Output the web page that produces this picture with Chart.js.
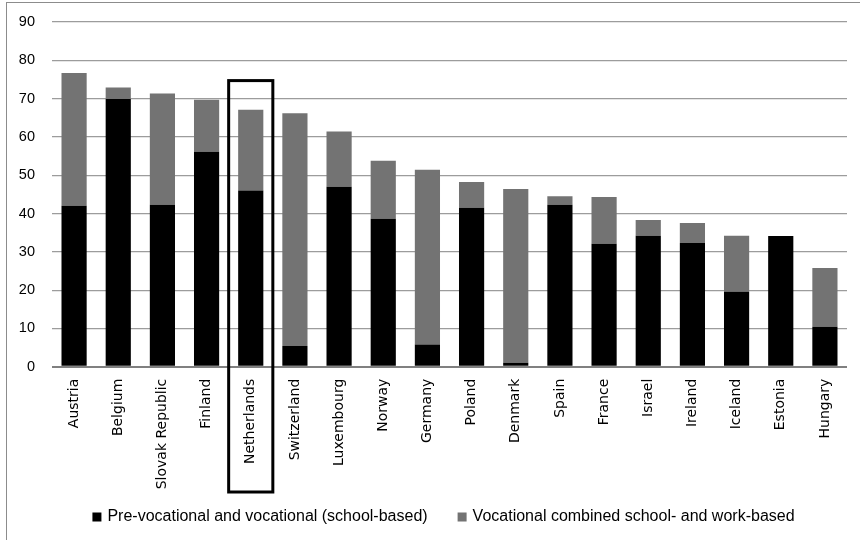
<!DOCTYPE html>
<html>
<head>
<meta charset="utf-8">
<script src="https://cdn.jsdelivr.net/npm/chart.js@4/dist/chart.umd.min.js"></script>
<style>
  html, body { margin: 0; padding: 0; background: #fff; }
  #wrap { position: relative; width: 860px; height: 540px; }
</style>
</head>
<body>
<div id="wrap"><canvas id="chart" width="860" height="540"></canvas></div>
<script>
// Share of upper secondary students by programme type
const countries = ['Austria', 'Belgium', 'Slovak Republic', 'Finland', 'Netherlands', 'Switzerland',
  'Luxembourg', 'Norway', 'Germany', 'Poland', 'Denmark', 'Spain', 'France', 'Israel',
  'Ireland', 'Iceland', 'Estonia', 'Hungary'];
const schoolBased = [42.0, 69.9, 42.3, 56.1, 46.0, 5.4, 47.0, 38.6, 5.8, 41.5, 1.0, 42.3, 32.1, 34.2, 32.3, 19.6, 34.1, 10.4];
const combined = [34.7, 3.0, 29.0, 13.6, 21.1, 60.8, 14.4, 15.2, 45.6, 6.7, 45.4, 2.2, 12.2, 4.1, 5.2, 14.6, 0, 15.4];
const yTicks = [0, 10, 20, 30, 40, 50, 60, 70, 80, 90];
const highlighted = 'Netherlands';
const highlightTop = 74.7;

const frame = {
  id: 'frame',
  beforeDraw(chart) {
    const ctx = chart.ctx;
    ctx.save();
    ctx.strokeStyle = '#8c8c8c';
    ctx.lineWidth = 1;
    ctx.strokeRect(6.5, 2.5, 900, 600);
    ctx.restore();
  }
};

// black box round the highlighted country
const highlightBox = {
  id: 'highlightBox',
  afterDatasetsDraw(chart) {
    const x = chart.scales.x, y = chart.scales.y;
    const i = countries.indexOf(highlighted);
    const cx = x.getPixelForValue(i);
    const half = (x.getPixelForValue(1) - x.getPixelForValue(0)) / 2;
    const top = y.getPixelForValue(highlightTop);
    const ctx = chart.ctx;
    ctx.save();
    ctx.strokeStyle = '#000';
    ctx.lineWidth = 3;
    ctx.strokeRect(cx - half, top, half * 2, x.bottom - 8 - top);
    ctx.restore();
  }
};

// legend drawn by hand so the gaps match the original
const bottomLegend = {
  id: 'bottomLegend',
  afterDraw(chart) {
    const ctx = chart.ctx;
    const area = chart.chartArea;
    const box = 9, gapText = 6, gapItem = 30;
    ctx.save();
    ctx.font = "16px 'Liberation Sans', sans-serif";
    ctx.textBaseline = 'middle';
    const items = chart.data.datasets.map(ds => ({
      text: ds.label, color: ds.backgroundColor, w: ctx.measureText(ds.label).width
    }));
    const total = items.reduce((s, it) => s + box + gapText + it.w, 0) + gapItem * (items.length - 1);
    let x = (area.left + area.right) / 2 - 6 - total / 2;
    const y = chart.scales.x.bottom + 17;
    items.forEach(it => {
      ctx.fillStyle = it.color;
      ctx.fillRect(x, y - box / 2, box, box);
      x += box + gapText;
      ctx.fillStyle = '#000';
      ctx.fillText(it.text, x, y);
      x += it.w + gapItem;
    });
    ctx.restore();
  }
};

new Chart(document.getElementById('chart'), {
  type: 'bar',
  data: {
    labels: countries,
    datasets: [{
      label: 'Pre-vocational and vocational (school-based)',
      data: schoolBased,
      backgroundColor: '#000000',
      barPercentage: 0.57,
      categoryPercentage: 1
    }, {
      label: 'Vocational combined school- and work-based',
      data: combined,
      backgroundColor: '#737373',
      barPercentage: 0.57,
      categoryPercentage: 1
    }]
  },
  options: {
    responsive: false,
    animation: false,
    layout: { padding: { left: 0, right: 13, top: 22, bottom: 40 } },
    plugins: {
      tooltip: { enabled: false },
      legend: { display: false }
    },
    scales: {
      x: {
        stacked: true,
        grid: { display: false },
        border: { display: false },
        ticks: {
          minRotation: 90,
          maxRotation: 90,
          autoSkip: false,
          padding: 4,
          color: '#000',
          font: { family: "'DejaVu Sans', sans-serif", size: 14 }
        },
        afterFit(scale) { scale.height = 133.3; }
      },
      y: {
        stacked: true,
        min: 0,
        max: 90,
        afterBuildTicks(scale) { scale.ticks = yTicks.map(v => ({ value: v })); },
        grid: {
          color: ctx => ctx.tick && ctx.tick.value === 0 ? '#808080' : '#9c9c9c',
          lineWidth: ctx => ctx.tick && ctx.tick.value === 0 ? 2 : 1.2,
          drawTicks: false
        },
        border: { display: false },
        ticks: {
          padding: 17,
          color: '#000',
          font: { family: "'Liberation Sans', sans-serif", size: 14.5 }
        },
        afterFit(scale) {
          scale.width = 52;
          scale.paddingTop = 0;
          scale.paddingBottom = 0;
        }
      }
    }
  },
  plugins: [frame, highlightBox, bottomLegend]
});
</script>
</body>
</html>
